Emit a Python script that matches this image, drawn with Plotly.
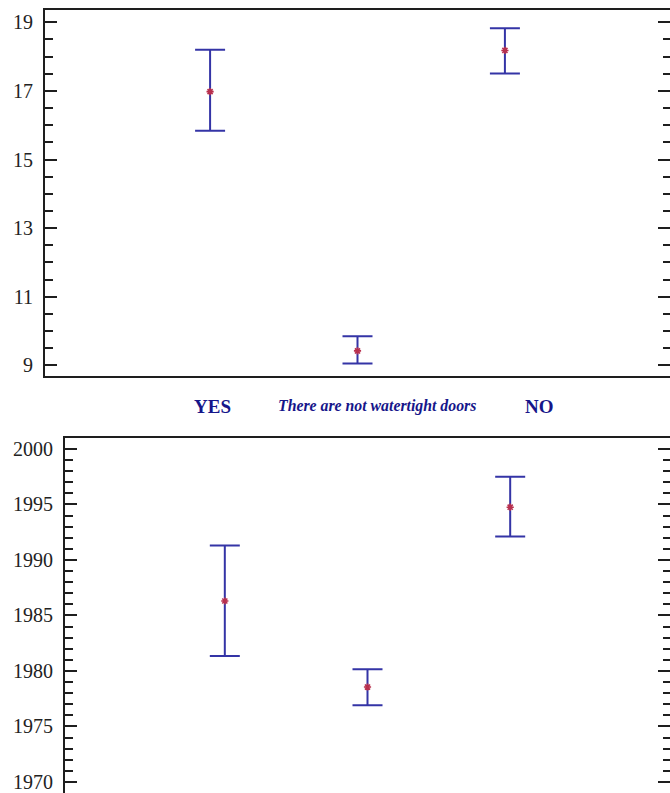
import plotly.graph_objects as go

categories = ["YES", "There are not watertight doors", "NO"]
label_styles = ["bold", "bolditalic", "bold"]

# Top panel
top_mean = [16.98, 9.42, 18.18]
top_upper = [18.20, 9.85, 18.83]
top_lower = [15.84, 9.05, 17.51]

# Bottom panel
bot_mean = [1986.3, 1978.55, 1994.75]
bot_upper = [1991.3, 1980.15, 1997.5]
bot_lower = [1981.35, 1976.9, 1992.1]

top_ticks = [9, 11, 13, 15, 17, 19]
bot_ticks = [1970, 1975, 1980, 1985, 1990, 1995, 2000]

xpos = list(range(len(categories)))

EB_COLOR = "#3434a6"
PT_COLOR = "#b8304e"
AX_COLOR = "#1e1e1e"
LBL_COLOR = "#16168a"
FONT = "Liberation Serif"

fig = go.Figure()

def add_panel(mean, upper, lower, xa, ya, ya_right):
    fig.add_trace(go.Scatter(
        x=xpos, y=mean, xaxis=xa, yaxis=ya, mode="markers",
        marker=dict(symbol="asterisk-open", size=6, color=PT_COLOR,
                    line=dict(color=PT_COLOR, width=1.6)),
        error_y=dict(type="data", symmetric=False,
                     array=[u - m for u, m in zip(upper, mean)],
                     arrayminus=[m - l for m, l in zip(mean, lower)],
                     color=EB_COLOR, thickness=2, width=15),
        showlegend=False, hoverinfo="skip"))
    # invisible trace to activate right-side tick axis
    fig.add_trace(go.Scatter(
        x=xpos, y=mean, xaxis=xa, yaxis=ya_right, mode="markers",
        marker=dict(opacity=0), showlegend=False, hoverinfo="skip"))

add_panel(top_mean, top_upper, top_lower, "x", "y", "y3")
add_panel(bot_mean, bot_upper, bot_lower, "x2", "y2", "y4")

xr = [-1.12, 3.12]
top_range = [8.68, 19.36]
bot_range = [1969.0, 2000.96]

top_dom = [0.5255, 0.9874]
bot_dom = [0.0, 0.4473]

common_x = dict(range=xr, showline=True, mirror=True, linecolor=AX_COLOR,
                linewidth=2, ticks="", showticklabels=False, showgrid=False,
                zeroline=False, fixedrange=True)

def yaxis_cfg(rng, ticks, minor_dtick, dom, anchor):
    return dict(range=rng, domain=dom, anchor=anchor, tickvals=ticks,
                ticktext=[str(t) for t in ticks], ticks="inside", ticklen=12,
                tickwidth=2, tickcolor=AX_COLOR, showline=True,
                linecolor=AX_COLOR, linewidth=2, mirror=False,
                showgrid=False, zeroline=False, ticklabelstandoff=6,
                tickfont=dict(family=FONT, size=20, color="#222222"),
                minor=dict(dtick=minor_dtick, ticks="inside", ticklen=8,
                           tickwidth=2, tickcolor=AX_COLOR, showgrid=False))

def right_cfg(rng, ticks, minor_dtick, overl, anchor):
    return dict(range=rng, overlaying=overl, side="right", anchor=anchor,
                tickvals=ticks, ticks="inside", ticklen=12, tickwidth=2,
                tickcolor=AX_COLOR, showline=False, showticklabels=False,
                showgrid=False, zeroline=False,
                minor=dict(dtick=minor_dtick, ticks="inside", ticklen=7,
                           tickwidth=2, tickcolor=AX_COLOR, showgrid=False))

fig.update_layout(
    width=670, height=793,
    margin=dict(l=0, r=0, t=0, b=0),
    paper_bgcolor="white", plot_bgcolor="white",
    xaxis=dict(domain=[45 / 670, 1], anchor="y", **common_x),
    xaxis2=dict(domain=[65 / 670, 1], anchor="y2", **common_x),
    yaxis=yaxis_cfg(top_range, top_ticks, 0.5, top_dom, "x"),
    yaxis2=yaxis_cfg(bot_range, bot_ticks, 1, bot_dom, "x2"),
    yaxis3=right_cfg(top_range, top_ticks, 0.5, "y", "x"),
    yaxis4=right_cfg(bot_range, bot_ticks, 1, "y2", "x2"),
)

label_x = [212.5 / 670, 377 / 670, 539 / 670]
label_sizes = [19, 15.8, 19]
for cat, st, lx, sz in zip(categories, label_styles, label_x, label_sizes):
    txt = f"<b>{cat}</b>" if st == "bold" else f"<b><i>{cat}</i></b>"
    fig.add_annotation(x=lx, y=(793 - 406) / 793, xref="paper", yref="paper",
                       text=txt, showarrow=False, xanchor="center",
                       yanchor="middle",
                       font=dict(family=FONT, size=sz, color=LBL_COLOR))

fig.write_html(
    "out.html",
    config={"displayModeBar": False, "staticPlot": True},
    post_script="document.body.style.margin='0';document.body.style.overflow='hidden';",
)
